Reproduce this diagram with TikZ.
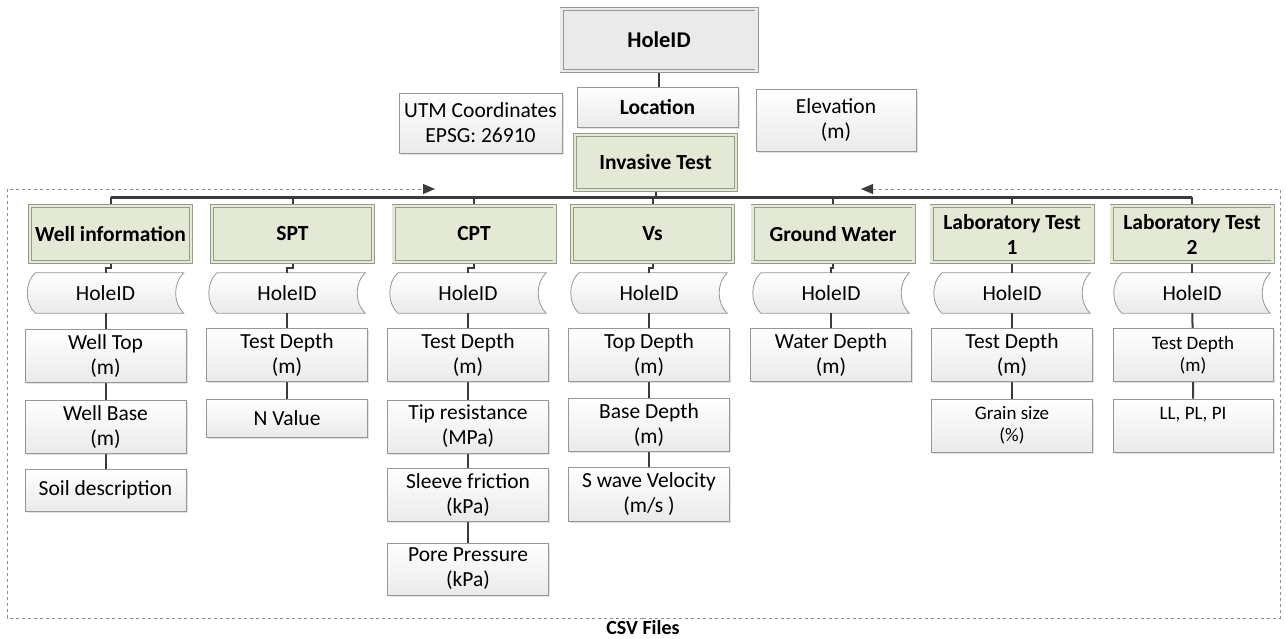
\documentclass[tikz,border=0pt]{standalone}
\usepackage{fontspec}
\setmainfont{Carlito}
\usetikzlibrary{arrows.meta,shadows,calc,backgrounds}
\definecolor{hdrfill}{RGB}{228,233,214}
\definecolor{hdrline}{RGB}{150,156,140}
\definecolor{connc}{RGB}{60,60,60}
\definecolor{fieldbot}{RGB}{234,234,234}
\definecolor{fieldline}{RGB}{150,150,150}
\definecolor{topfill}{RGB}{234,234,234}
\definecolor{framec}{RGB}{140,140,140}
\tikzset{
  fs/.style={font=\fontsize{21.5}{25}\selectfont},
  fsb/.style={font=\fontsize{21.5}{25}\selectfont\bfseries},
  fsm/.style={font=\fontsize{19}{22}\selectfont},
  shad/.style={drop shadow={opacity=0.22,shadow xshift=1.5pt,shadow yshift=-1.5pt}},
  topbox/.style={draw=fieldline, double=topfill, double distance=2.4pt, line width=0.8pt,
    fill=topfill, minimum width=195pt, minimum height=62pt, inner sep=0pt,
    font=\fontsize{22.5}{26}\selectfont\bfseries, shad},
  hdr/.style={draw=hdrline, double=hdrfill, double distance=2.4pt, line width=0.8pt,
    fill=hdrfill, minimum width=161pt, minimum height=56pt, inner sep=0pt,
    align=center, fsb, shad},
  field/.style={draw=fieldline, line width=0.8pt, top color=white, bottom color=fieldbot,
    minimum width=161pt, minimum height=53pt, inner sep=0pt, align=center, fs, shad},
  tape/.style={minimum width=156pt, minimum height=40pt, inner sep=0pt, fs},
  tapeline/.style={draw=fieldline, line width=0.8pt, top color=white, bottom color=fieldbot},
  conn/.style={draw=connc, line width=2pt},
  bus/.style={draw=connc, line width=3pt},
  frame/.style={draw=framec, line width=0.8pt, dashed},
  fa/.style={-{Triangle[length=12pt,width=10pt,fill=connc,color=connc]}}
}
\begin{document}
\begin{tikzpicture}[x=1pt,y=-1pt]
\useasboundingbox (0,0) rectangle (1286,638);

% frame
\coordinate (fbm) at (643,618);
\coordinate (fbl) at (7,618);
\coordinate (fbr) at (1280,618);
\coordinate (ftl) at (7,189);
\coordinate (ftr) at (1280,189);
\coordinate (fal) at (435,189);
\coordinate (far) at (861,189);
\draw[frame,fa] (fbm) -- (fbl) -- (ftl) -- (fal);
\draw[frame,fa] (fbm) -- (fbr) -- (ftr) -- (far);
\node[font=\fontsize{20}{24}\selectfont\bfseries] (csv) at (643,627.5) {CSV Files};

% top part
\node[topbox] (top) at (659,40) {HoleID};
\node[field, minimum height=40pt, fsb] (loc) at (657.5,107) {Location};
\node[field, minimum width=163pt, minimum height=60pt] (utm) at (480.5,123) {UTM Coordinates\\EPSG: 26910};
\node[field, minimum width=160pt, minimum height=62pt] (elev) at (836,120) {Elevation\\(m)};
\node[hdr, minimum height=55pt] (inv) at (655.5,162.5) {Invasive Test};

% headers
\node[hdr] (h1) at (110.5,234) {Well information};
\node[hdr] (h2) at (292.5,234) {SPT};
\node[hdr] (h3) at (474,234) {CPT};
\node[hdr] (h4) at (652.5,234) {Vs};
\node[hdr] (h5) at (833,234) {Ground Water};
\node[hdr] (h6) at (1012,234) {Laboratory Test\\1};
\node[hdr] (h7) at (1192,234) {Laboratory Test\\2};

% tapes
\node[tape] (t1) at (105.5,293) {HoleID};
\node[tape] (t2) at (287,293) {HoleID};
\node[tape] (t3) at (468,293) {HoleID};
\node[tape] (t4) at (649,293) {HoleID};
\node[tape] (t5) at (831,293) {HoleID};
\node[tape] (t6) at (1012,293) {HoleID};
\node[tape] (t7) at (1192,293) {HoleID};

% fields
\node[field] (a2) at (105.5,356) {Well Top\\(m)};
\node[field] (a3) at (105.5,427) {Well Base\\(m)};
\node[field, minimum height=42pt] (a4) at (105.5,490) {Soil description};

\node[field] (b2) at (287,355) {Test Depth\\(m)};
\node[field, minimum height=38pt] (b3) at (287,418) {N Value};

\node[field] (c2) at (468,355) {Test Depth\\(m)};
\node[field] (c3) at (468,426.5) {Tip resistance\\(MPa)};
\node[field] (c4) at (468,495) {Sleeve friction\\(kPa)};
\node[field, minimum height=52pt] (c5) at (468,569) {Pore Pressure\\(kPa)};

\node[field] (d2) at (649,355) {Top Depth\\(m)};
\node[field] (d3) at (649,425) {Base Depth\\(m)};
\node[field, minimum height=54pt] (d4) at (649,494) {S wave Velocity\\(m/s )};

\node[field] (e2) at (831,355) {Water Depth\\(m)};

\node[field] (f2) at (1012,355) {Test Depth\\(m)};
\node[field, fsm] (f3) at (1012,425.5) {Grain size\\(\%)};

\node[field, fsm, minimum width=160pt] (g2) at (1193,355) {Test Depth\\(m)};
\node[field, fsm, minimum width=160pt] (g3) at (1193,425.5) {LL, PL, PI\\\phantom{(\%)}};

\begin{scope}[on background layer]
  \foreach \n in {t1,t2,t3,t4,t5,t6,t7}{
    \path[tapeline] ($(\n.north west)+(8,0)$) -- (\n.north east)
      .. controls ($(\n.north east)+(-10.7,10)$) and ($(\n.south east)+(-10.7,-10)$) .. (\n.south east)
      -- ($(\n.south west)+(8,0)$)
      .. controls ($(\n.south west)+(-2.7,-10)$) and ($(\n.north west)+(-2.7,10)$) .. cycle;
  }
  \coordinate (busL) at (110.5,197);
  \coordinate (busR) at (1192,197);
  \draw[conn] (top.south) -- (top.south |- loc.north);
  \draw[conn] (inv.south) -- (inv.south |- busL);
  \draw[bus] (busL) -- (busR);
  \foreach \h/\t in {h1/t1,h2/t2,h3/t3,h4/t4,h5/t5,h6/t6,h7/t7}{
    \draw[conn] (\h.north |- busL) -- (\h.north);
    \draw[conn] (\h.south) -- ++(0,6) -| (\t.north);
  }
  \draw[conn] (t1) -- (a2) -- (a3) -- (a4);
  \draw[conn] (t2) -- (b2) -- (b3);
  \draw[conn] (t3) -- (c2) -- (c3) -- (c4) -- (c5);
  \draw[conn] (t4) -- (d2) -- (d3) -- (d4);
  \draw[conn] (t5) -- (e2);
  \draw[conn] (t6) -- (f2) -- (f3);
  \draw[conn] (t7) -- (g2) -- (g3);
\end{scope}
\end{tikzpicture}
\end{document}
